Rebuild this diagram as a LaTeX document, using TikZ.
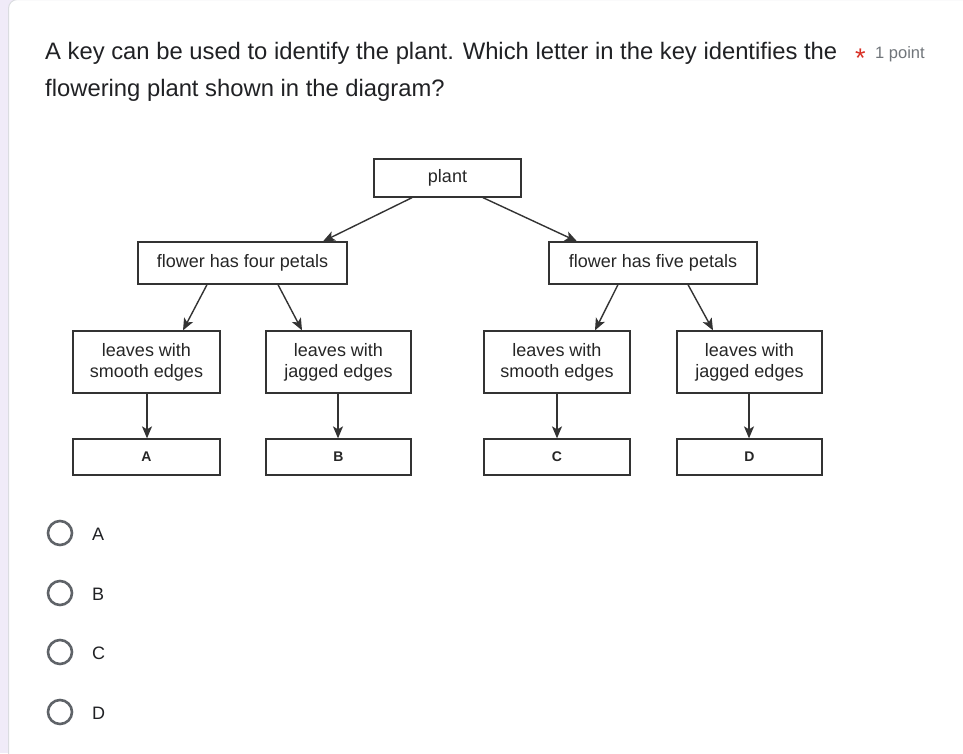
\documentclass[tikz,border=0pt]{standalone}
\usepackage{fontspec}
\setmainfont{Liberation Sans}
\usetikzlibrary{arrows.meta}
\definecolor{lav}{HTML}{F0EBF8}
\definecolor{cardline}{HTML}{DADCE0}
\definecolor{qtext}{HTML}{202124}
\definecolor{gtext}{HTML}{70757A}
\definecolor{req}{HTML}{D93025}
\definecolor{radio}{HTML}{5F6368}
\definecolor{boxline}{HTML}{333333}
\tikzset{
  keybox/.style={draw=boxline, line width=1.3pt, fill=white, inner sep=0pt, align=center,
    font=\fontsize{18}{21}\selectfont, text=black!85},
  letterbox/.style={keybox, font=\fontsize{14}{16}\selectfont\bfseries},
  keyarrow/.style={draw=boxline, line width=1.4pt, -{Stealth[length=12pt,width=10pt,inset=3pt]}},
  radiobtn/.style={circle, draw=radio, line width=2.6pt, minimum size=24pt, inner sep=0pt},
  optlabel/.style={anchor=west, inner sep=0pt, font=\fontsize{18}{20}\selectfont, text=qtext},
  qline/.style={anchor=base west, inner sep=0pt, font=\fontsize{23.8}{28}\selectfont, text=qtext},
}
\begin{document}
\begin{tikzpicture}[x=1pt,y=-1pt]
\useasboundingbox (0,0) rectangle (963,753);
\clip (0,0) rectangle (963,753);
\fill[lav] (0,0) rectangle (963,753);
\draw[cardline, fill=white, line width=1pt, rounded corners=9pt] (8.5,-0.5) rectangle (990,780);
% question
\node[qline] (q1) at (45,59)
  {A key can be used to identify the plant. Which letter in the key identifies the};
\node[qline] (q2) at (45,96)
  {flowering plant shown in the diagram?};
\node[anchor=base west, inner sep=0pt, font=\fontsize{27}{30}\selectfont, text=req] (ast) at (855,67) {*};
\node[anchor=base west, inner sep=0pt, font=\fontsize{16.5}{19}\selectfont, text=gtext] (pt) at (875,58) {1 point};
% key boxes
\node[keybox, minimum width=147pt, minimum height=38pt] (plant) at (447.5,178) {plant};
\node[keybox, minimum width=209pt, minimum height=42pt] (four) at (242.5,263) {flower has four petals};
\node[keybox, minimum width=208pt, minimum height=42pt] (five) at (653,263) {flower has five petals};
\node[keybox, minimum width=147pt, minimum height=62pt] (ls1) at (146.5,362) {leaves with\\smooth edges};
\node[keybox, minimum width=145pt, minimum height=62pt] (lj1) at (338.5,362) {leaves with\\jagged edges};
\node[keybox, minimum width=146pt, minimum height=62pt] (ls2) at (557,362) {leaves with\\smooth edges};
\node[keybox, minimum width=145pt, minimum height=62pt] (lj2) at (749.5,362) {leaves with\\jagged edges};
\node[letterbox, minimum width=147pt, minimum height=36pt] (A) at (146.5,457) {A};
\node[letterbox, minimum width=145pt, minimum height=36pt] (B) at (338.5,457) {B};
\node[letterbox, minimum width=146pt, minimum height=36pt] (C) at (557,457) {C};
\node[letterbox, minimum width=145pt, minimum height=36pt] (D) at (749.5,457) {D};
% arrows
\draw[keyarrow] (plant.south -| 412,0) -- (four.north -| 323,0);
\draw[keyarrow] (plant.south -| 483,0) -- (five.north -| 577,0);
\draw[keyarrow] (four.south -| 207,0) -- (ls1.north -| 183,0);
\draw[keyarrow] (four.south -| 278,0) -- (lj1.north -| 302,0);
\draw[keyarrow] (five.south -| 618,0) -- (ls2.north -| 595,0);
\draw[keyarrow] (five.south -| 688,0) -- (lj2.north -| 713,0);
\draw[keyarrow] (ls1.south -| 147,0) -- (A.north -| 147,0);
\draw[keyarrow] (lj1.south -| 338,0) -- (B.north -| 338,0);
\draw[keyarrow] (ls2.south -| 557,0) -- (C.north -| 557,0);
\draw[keyarrow] (lj2.south -| 749,0) -- (D.north -| 749,0);
% options
\node[radiobtn] (rA) at (60,533) {};
\node[radiobtn] (rB) at (60,593) {};
\node[radiobtn] (rC) at (60,652) {};
\node[radiobtn] (rD) at (60,712) {};
\node[optlabel] (oA) at (92,534) {A};
\node[optlabel] (oB) at (92,594) {B};
\node[optlabel] (oC) at (92,653) {C};
\node[optlabel] (oD) at (92,713) {D};
\end{tikzpicture}
\end{document}
